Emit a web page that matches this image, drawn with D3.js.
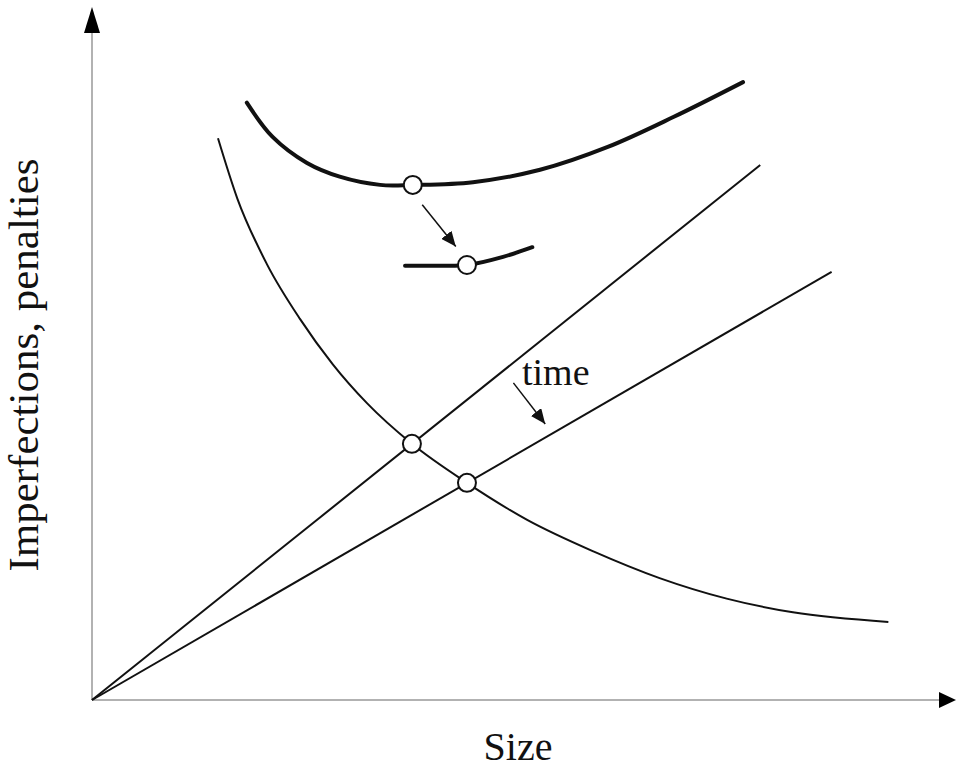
<!DOCTYPE html>
<meta charset="utf-8">
<style>
  body { margin: 0; background: #fff; }
  text { font-family: "Liberation Serif", "Times New Roman", serif; fill: #111; }
</style>
<body>
<svg></svg>
<script src="https://d3js.org/d3.v7.min.js"></script>
<script>

// falling curve (imperfections vs size)
var fallX = [14.65, 16.9, 20.35, 24.2, 28.0, 32.0, 37.2, 43.6, 50.6, 58.3, 66.0, 73.8, 81.5, 92.6];
var fallY = [82.0, 73.2, 63.6, 55.6, 49.0, 43.3, 37.4, 31.7, 26.3, 21.7, 17.8, 14.8, 12.8, 11.4];

// two straight penalty lines from the origin
var lineEndX = [77.7, 86.0];
var lineEndY = [78.1, 62.5];

// thick total curve, and its shifted piece
var totalX = [18.0, 21.0, 25.0, 28.8, 33.5, 37.3, 44.3, 52.1, 59.9, 67.6, 75.7];
var totalY = [87.2, 82.2, 78.4, 76.4, 75.2, 75.2, 75.6, 77.4, 80.7, 85.1, 90.2];
var shiftX = [36.4, 40.0, 43.6, 47.8, 51.2];
var shiftY = [63.4, 63.4, 63.5, 64.7, 66.1];

// open circles
var markX = [37.2, 43.6, 37.3, 43.6];
var markY = [37.4, 31.7, 75.2, 63.5];

var width = 957;
var height = 769;

var svg = d3.select('svg')
    .attr('width', width)
    .attr('height', height);

var x = d3.scaleLinear().domain([0, 100]).range([92, 952]);
var y = d3.scaleLinear().domain([0, 100]).range([700, 15]);

var defs = svg.append('defs');
defs.append('marker')
    .attr('id', 'head')
    .attr('viewBox', '0 0 10 10')
    .attr('refX', 10).attr('refY', 5)
    .attr('markerWidth', 15).attr('markerHeight', 13)
    .attr('markerUnits', 'userSpaceOnUse')
    .attr('orient', 'auto')
    .attr('preserveAspectRatio', 'none')
    .append('path')
    .attr('d', 'M0,0L10,5L0,10Z')
    .attr('fill', '#111');

// axes
svg.append('line')
    .attr('x1', x(0)).attr('y1', y(0))
    .attr('x2', x(0)).attr('y2', 30)
    .attr('stroke', '#999').attr('stroke-width', 1.5);
svg.append('line')
    .attr('x1', x(0)).attr('y1', y(0))
    .attr('x2', 940).attr('y2', y(0))
    .attr('stroke', '#999').attr('stroke-width', 1.5);
svg.append('path')
    .attr('d', 'M' + x(0) + ',7L' + (x(0) + 8) + ',33L' + (x(0) - 8) + ',33Z')
    .attr('fill', '#000');
svg.append('path')
    .attr('d', 'M956,' + y(0) + 'L939,' + (y(0) - 8) + 'L939,' + (y(0) + 8) + 'Z')
    .attr('fill', '#000');

var line = d3.line()
    .x(function (d) { return x(d[0]); })
    .y(function (d) { return y(d[1]); })
    .curve(d3.curveCatmullRom);

var smooth = d3.line()
    .x(function (d) { return x(d[0]); })
    .y(function (d) { return y(d[1]); })
    .curve(d3.curveBasis);

var fall = d3.zip(fallX, fallY);
var total = d3.zip(totalX, totalY);
var shift = d3.zip(shiftX, shiftY);

svg.append('path').datum(fall)
    .attr('d', d3.line()
        .x(function (d) { return x(d[0]); })
        .y(function (d) { return y(d[1]); })
        .curve(d3.curveMonotoneX))
    .attr('fill', 'none').attr('stroke', '#111').attr('stroke-width', 2);

lineEndX.forEach(function (ex, i) {
    svg.append('path').datum([[0, 0], [ex, lineEndY[i]]])
        .attr('d', line)
        .attr('fill', 'none').attr('stroke', '#111').attr('stroke-width', 2);
});

svg.append('path').datum(total)
    .attr('d', line)
    .attr('fill', 'none').attr('stroke', '#111').attr('stroke-width', 4)
    .attr('stroke-linecap', 'round');
svg.append('path').datum(shift)
    .attr('d', line)
    .attr('fill', 'none').attr('stroke', '#111').attr('stroke-width', 4)
    .attr('stroke-linecap', 'round');

// small arrows
var arrows = [[38.4, 72.3, 42.3, 66.2], [49.0, 46.3, 52.7, 40.3]];
svg.selectAll('.arr')
    .data(arrows)
    .enter().append('line')
    .attr('class', 'arr')
    .attr('x1', function (d) { return x(d[0]); })
    .attr('y1', function (d) { return y(d[1]); })
    .attr('x2', function (d) { return x(d[2]); })
    .attr('y2', function (d) { return y(d[3]); })
    .attr('stroke', '#111').attr('stroke-width', 1.5)
    .attr('marker-end', 'url(#head)');

svg.selectAll('.mark')
    .data(d3.zip(markX, markY))
    .enter().append('circle')
    .attr('class', 'mark')
    .attr('cx', function (d) { return x(d[0]); })
    .attr('cy', function (d) { return y(d[1]); })
    .attr('r', 9)
    .attr('fill', '#fff').attr('stroke', '#111').attr('stroke-width', 2);

// labels
svg.append('text')
    .attr('x', x(50.0)).attr('y', y(46.0))
    .attr('font-size', 38)
    .text('time');

svg.append('text')
    .attr('transform', 'translate(518,760)')
    .attr('text-anchor', 'middle')
    .attr('font-size', 40)
    .text('Size');

svg.append('text')
    .attr('transform', 'translate(38,365)rotate(-90)')
    .attr('text-anchor', 'middle')
    .attr('font-size', 43)
    .text('Imperfections, penalties');

</script>
</body>
